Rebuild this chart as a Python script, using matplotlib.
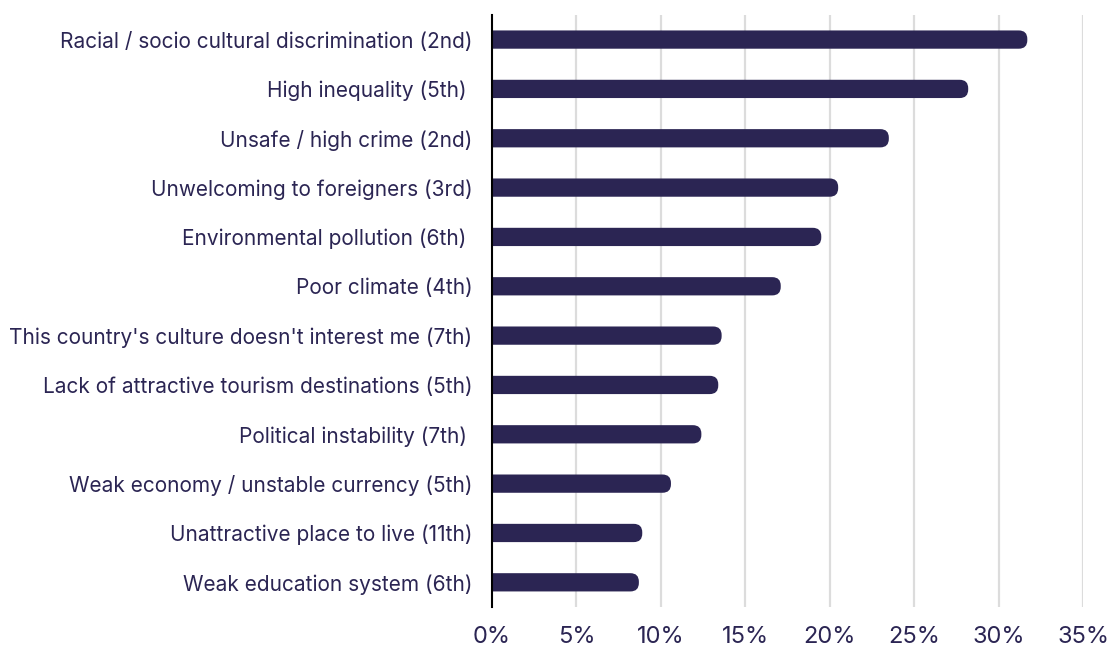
import numpy as np
import matplotlib.pyplot as plt
from matplotlib.patches import FancyBboxPatch

plt.rcParams['font.family'] = ['Inter', 'DejaVu Sans']

labels = [
    "Racial / socio cultural discrimination (2nd)",
    "High inequality (5th) ",
    "Unsafe / high crime (2nd)",
    "Unwelcoming to foreigners (3rd)",
    "Environmental pollution (6th) ",
    "Poor climate (4th)",
    "This country's culture doesn't interest me (7th)",
    "Lack of attractive tourism destinations (5th)",
    "Political instability (7th) ",
    "Weak economy / unstable currency (5th)",
    "Unattractive place to live (11th)",
    "Weak education system (6th)",
]
values = [31.7, 28.2, 23.5, 20.5, 19.5, 17.1, 13.6, 13.4, 12.4, 10.6, 8.9, 8.7]
xticks = [0, 5, 10, 15, 20, 25, 30, 35]

navy = '#2b2553'
grid = '#dcdcdc'

fig = plt.figure(figsize=(11.09, 6.48), dpi=100)
ax = fig.add_axes([0.4436, 0.0633, 0.5330, 0.9137])

n = len(labels)
ypos = np.arange(n)[::-1]
ax.set_xlim(0, 35)
ax.set_ylim(-0.5, n - 0.5)

# rounded right ends; rounding given in x units, scaled for the y axis
bar_h = 0.37
r = 0.5
aspect = (12 / 592) / (35 / 591)
for y, v in zip(ypos, values):
    p = FancyBboxPatch((-1, y - bar_h / 2), v + 1, bar_h,
                       boxstyle=f"round,pad=0,rounding_size={r}",
                       mutation_aspect=aspect, fc=navy, ec='none',
                       zorder=3, clip_on=True)
    ax.add_patch(p)

for x in xticks[1:]:
    ax.axvline(x, color=grid, lw=1.6, zorder=1)

ax.set_yticks(ypos)
ax.set_yticklabels(labels, fontsize=15, color=navy)
ax.set_xticks(xticks)
ax.set_xticklabels([f"{x}%" for x in xticks], fontsize=17, color=navy)
ax.tick_params(axis='both', length=0)
ax.tick_params(axis='y', pad=14)
ax.tick_params(axis='x', pad=14)

for s in ['top', 'right', 'bottom']:
    ax.spines[s].set_visible(False)
ax.spines['left'].set_color('black')
ax.spines['left'].set_linewidth(1.5)
ax.spines['left'].set_zorder(4)

fig.savefig('out.png', dpi=100, facecolor='white')
